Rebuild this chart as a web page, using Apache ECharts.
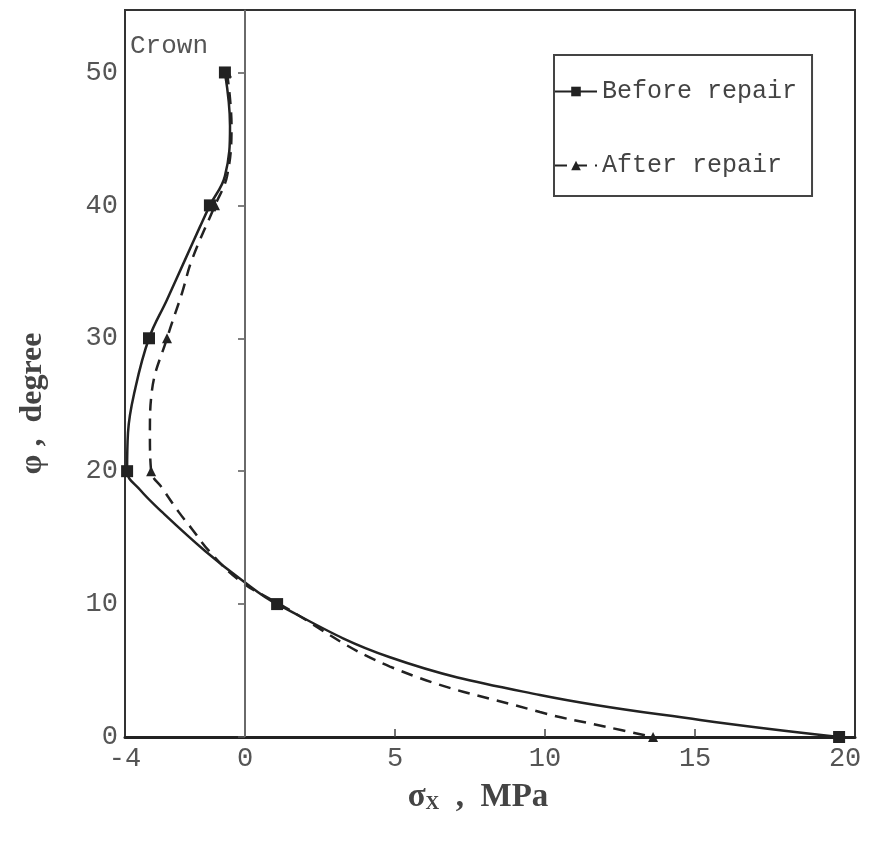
<!DOCTYPE html>
<html>
<head>
<meta charset="utf-8">
<script src="https://cdn.jsdelivr.net/npm/echarts@6/dist/echarts.min.js"></script>
<style>html,body{margin:0;padding:0;background:#fff}#c{width:877px;height:844px}</style>
</head>
<body>
<div id="c"></div>
<script>
// phi (degree) at the marked points
const phiMarks = [0, 10, 20, 30, 40, 50];
// sigma_x (MPa) at the marked points
const beforeMarks = [19.8, 1.07, -3.93, -3.2, -1.17, -0.67];
const afterMarks  = [13.6, 1.15, -3.13, -2.6, -1.0, -0.6];
// extra points read along each curve between markers: [sigma_x, phi]
const beforeTrace = [[15.17,1.28],[9.83,3.16],[4.83,6.0],[-0.1,11.8],[-1.33,14.0],[-2.75,16.9],[-3.5,18.6],[-3.9,22.9],[-3.67,26.1],[-2.6,32.9],[-2.0,35.9],[-1.5,38.4],[-0.67,42.2],[-0.5,46]];
const afterTrace  = [[12.07,0.75],[9.83,1.88],[4.83,5.3],[-0.2,11.8],[-1.2,14.0],[-1.75,15.6],[-2.2,16.9],[-2.75,18.7],[-3.17,22.9],[-3.1,26.1],[-2.1,33.4],[-1.77,35.9],[-0.6,42.2],[-0.45,46]];
const xTickLabels = [-4, 0, 5, 10, 15, 20];
const yTickLabels = [0, 10, 20, 30, 40, 50];

function build(marks, trace, sym) {
  const pts = phiMarks.map((p, i) => ({ value: [marks[i], p], symbol: sym }));
  trace.forEach(t => pts.push({ value: [t[0], t[1]], symbol: 'none' }));
  pts.sort((a, b) => b.value[1] - a.value[1]);
  return pts;
}

const mono = '"Liberation Mono", "DejaVu Sans Mono", monospace';
const serif = '"Liberation Serif", "DejaVu Serif", serif';
const chart = echarts.init(document.getElementById('c'));
chart.setOption({
  animation: false,
  backgroundColor: '#fff',
  grid: { left: 125, right: 22, top: 10, bottom: 107, show: true, borderColor: '#333', borderWidth: 2, backgroundColor: 'transparent' },
  xAxis: {
    type: 'value', min: -4, max: 20.33,
    axisLine: { lineStyle: { color: '#222', width: 3 } },
    axisTick: { inside: true, length: 8, customValues: [5, 10, 15], lineStyle: { color: '#444', width: 1.5 } },
    axisLabel: { customValues: xTickLabels, color: '#555', fontFamily: mono, fontSize: 27, margin: 8 },
    splitLine: { show: false },
    name: '{s|σ}{sub|X}{s|  ,  MPa}',
    nameLocation: 'middle', nameGap: 44,
    nameTextStyle: {
      padding: [0, 24, 0, 0],
      rich: {
        s: { fontFamily: serif, fontWeight: 'bold', fontSize: 33, color: '#444' },
        sub: { fontFamily: serif, fontWeight: 'bold', fontSize: 19, color: '#444', padding: [14, 0, 0, 0] }
      }
    }
  },
  yAxis: {
    type: 'value', min: 0, max: 54.7, interval: 10,
    axisLine: { lineStyle: { color: '#444', width: 2 } },
    axisTick: { length: 7, customValues: yTickLabels, lineStyle: { color: '#555', width: 1.5 } },
    axisLabel: { customValues: yTickLabels, color: '#555', fontFamily: mono, fontSize: 27, margin: 7 },
    splitLine: { show: false },
    name: 'φ ,  degree',
    nameLocation: 'middle', nameGap: 76,
    nameTextStyle: { fontFamily: serif, fontWeight: 'bold', fontSize: 32, color: '#444', padding: [0, 60, 0, 0] }
  },
  legend: {
    orient: 'vertical', left: 554, top: 55,
    padding: [24, 15, 18, 0],
    borderColor: '#444', borderWidth: 2,
    itemWidth: 42, itemHeight: 12, itemGap: 49,
    textStyle: { fontFamily: mono, fontSize: 25, color: '#444', lineHeight: 24 },
    data: ['Before repair', 'After repair']
  },
  graphic: [{ type: 'text', left: 130, top: 33, style: { text: 'Crown', fontFamily: mono, fontSize: 26, fill: '#555' } }],
  series: [
    {
      name: 'Before repair', type: 'line', smooth: 0.4,
      symbol: 'rect', symbolSize: 12,
      lineStyle: { color: '#222', width: 2.5 },
      itemStyle: { color: '#222' },
      data: build(beforeMarks, beforeTrace, 'rect'),
      markLine: {
        silent: true, symbol: 'none', label: { show: false },
        lineStyle: { color: '#777', width: 1.5, type: 'solid' },
        data: [{ xAxis: 0 }]
      }
    },
    {
      name: 'After repair', type: 'line', smooth: 0.4,
      symbol: 'triangle', symbolSize: 10,
      lineStyle: { color: '#222', width: 2.5, type: [12, 8] },
      itemStyle: { color: '#222' },
      data: build(afterMarks, afterTrace, 'triangle')
    }
  ]
});
</script>
</body>
</html>
